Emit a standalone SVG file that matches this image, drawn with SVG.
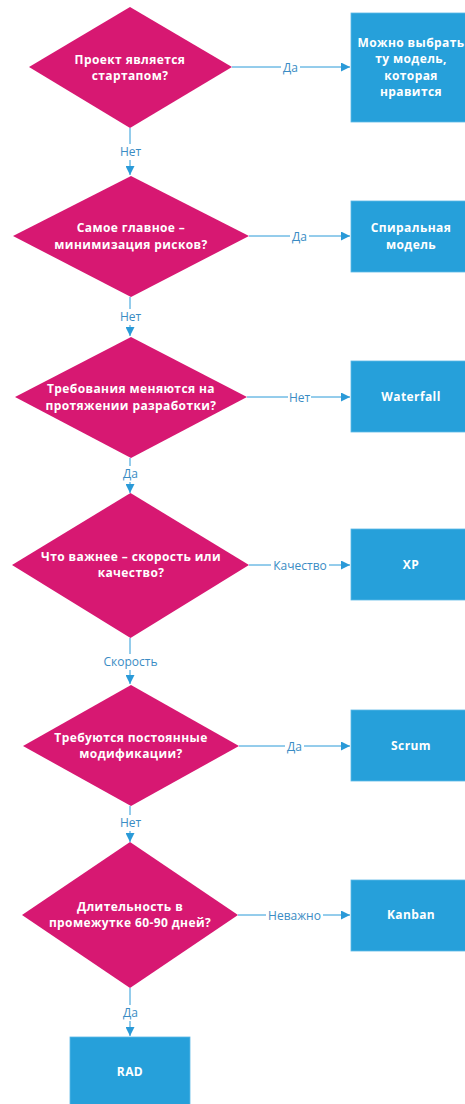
<svg xmlns="http://www.w3.org/2000/svg" width="465" height="1104" viewBox="0 0 465 1104">
<defs>
<style>
.d{fill:#D71872;}
.b{fill:#26A0DA;stroke:#5CB8E6;stroke-width:0.8;}
.t{font-family:"Open Sans","Noto Sans",sans-serif;font-weight:bold;font-size:12px;letter-spacing:0.4px;fill:#FFFFFF;text-anchor:middle;}
.c{fill:none;stroke:#2A9AD8;stroke-width:1;marker-end:url(#ah);}
.l{font-family:"Open Sans","Noto Sans",sans-serif;font-size:12px;fill:#3A8CC4;text-anchor:middle;}
.bg{fill:#FFFFFF;}
</style>
<marker id="ah" viewBox="0 0 10 10" refX="10" refY="5" markerWidth="10" markerHeight="9" markerUnits="userSpaceOnUse" orient="auto">
<path d="M0,0 L10,5 L0,10 Z" fill="#2A9AD8"/>
</marker>
</defs>

<g id="connectors">
<path class="c" d="M232,67 H350"/>
<path class="c" d="M130,128 V175"/>
<path class="c" d="M249,236 H350"/>
<path class="c" d="M130,297 V336"/>
<path class="c" d="M247,397 H350"/>
<path class="c" d="M130,458 V493"/>
<path class="c" d="M249,565 H350"/>
<path class="c" d="M130,638 V684"/>
<path class="c" d="M239,746 H350"/>
<path class="c" d="M130,806 V842"/>
<path class="c" d="M238,915 H350"/>
<path class="c" d="M130,988 V1036"/>
<rect class="bg" x="281" y="59" width="19" height="16"/>
<text class="l" x="290.5" y="71.5">Да</text>
<rect class="bg" x="119" y="144" width="23" height="16"/>
<text class="l" x="130.5" y="156">Нет</text>
<rect class="bg" x="290" y="228" width="19" height="16"/>
<text class="l" x="299.5" y="240.5">Да</text>
<rect class="bg" x="119" y="309" width="23" height="16"/>
<text class="l" x="130.5" y="321">Нет</text>
<rect class="bg" x="288" y="389" width="23" height="16"/>
<text class="l" x="299.5" y="401.5">Нет</text>
<rect class="bg" x="121" y="466" width="19" height="16"/>
<text class="l" x="130.5" y="478">Да</text>
<rect class="bg" x="271" y="557" width="58" height="16"/>
<text class="l" x="300" y="569.5">Качество</text>
<rect class="bg" x="101" y="654" width="59" height="16"/>
<text class="l" x="130.5" y="666">Скорость</text>
<rect class="bg" x="285" y="738" width="19" height="16"/>
<text class="l" x="294.5" y="750.5">Да</text>
<rect class="bg" x="119" y="815" width="23" height="16"/>
<text class="l" x="130.5" y="827">Нет</text>
<rect class="bg" x="266" y="907" width="57" height="16"/>
<text class="l" x="294.5" y="919.5">Неважно</text>
<rect class="bg" x="121" y="1005" width="19" height="16"/>
<text class="l" x="130.5" y="1017">Да</text>
</g>

<g id="q1">
<polygon class="d" points="130,7 232,67 130,128 29,67"/>
<text class="t" x="130" y="64">Проект является</text>
<text class="t" x="130" y="80">стартапом?</text>
</g>
<g id="a1">
<rect class="b" x="351" y="13" width="120" height="109"/>
<text class="t" x="411" y="47">Можно выбрать</text>
<text class="t" x="411" y="63">ту модель,</text>
<text class="t" x="411" y="80">которая</text>
<text class="t" x="411" y="96">нравится</text>
</g>

<g id="q2">
<polygon class="d" points="131,176 249,236 131,297 13,236"/>
<text class="t" x="131" y="232">Самое главное –</text>
<text class="t" x="131" y="249">минимизация рисков?</text>
</g>
<g id="a2">
<rect class="b" x="351" y="201" width="120" height="71"/>
<text class="t" x="411" y="232">Спиральная</text>
<text class="t" x="411" y="249">модель</text>
</g>

<g id="q3">
<polygon class="d" points="131,337 247,397 131,458 15,397"/>
<text class="t" x="131" y="393">Требования меняются на</text>
<text class="t" x="131" y="410">протяжении разработки?</text>
</g>
<g id="a3">
<rect class="b" x="351" y="361" width="120" height="71"/>
<text class="t" x="411" y="401">Waterfall</text>
</g>

<g id="q4">
<polygon class="d" points="130.5,493 249,565 130.5,638 12,565"/>
<text class="t" x="131" y="561">Что важнее – скорость или</text>
<text class="t" x="131" y="577">качество?</text>
</g>
<g id="a4">
<rect class="b" x="351" y="529" width="120" height="71"/>
<text class="t" x="411" y="569">XP</text>
</g>

<g id="q5">
<polygon class="d" points="131,685 239,746 131,806 23,746"/>
<text class="t" x="131" y="742">Требуются постоянные</text>
<text class="t" x="131" y="758">модификации?</text>
</g>
<g id="a5">
<rect class="b" x="351" y="710" width="120" height="71"/>
<text class="t" x="411" y="750">Scrum</text>
</g>

<g id="q6">
<polygon class="d" points="130,842 238,915 130,988 22,915"/>
<text class="t" x="130" y="911">Длительность в</text>
<text class="t" x="130" y="927">промежутке 60-90 дней?</text>
</g>
<g id="a6">
<rect class="b" x="351" y="880" width="120" height="71"/>
<text class="t" x="411" y="919">Kanban</text>
</g>

<g id="a7">
<rect class="b" x="70" y="1037" width="120" height="72"/>
<text class="t" x="130" y="1076">RAD</text>
</g>
</svg>
